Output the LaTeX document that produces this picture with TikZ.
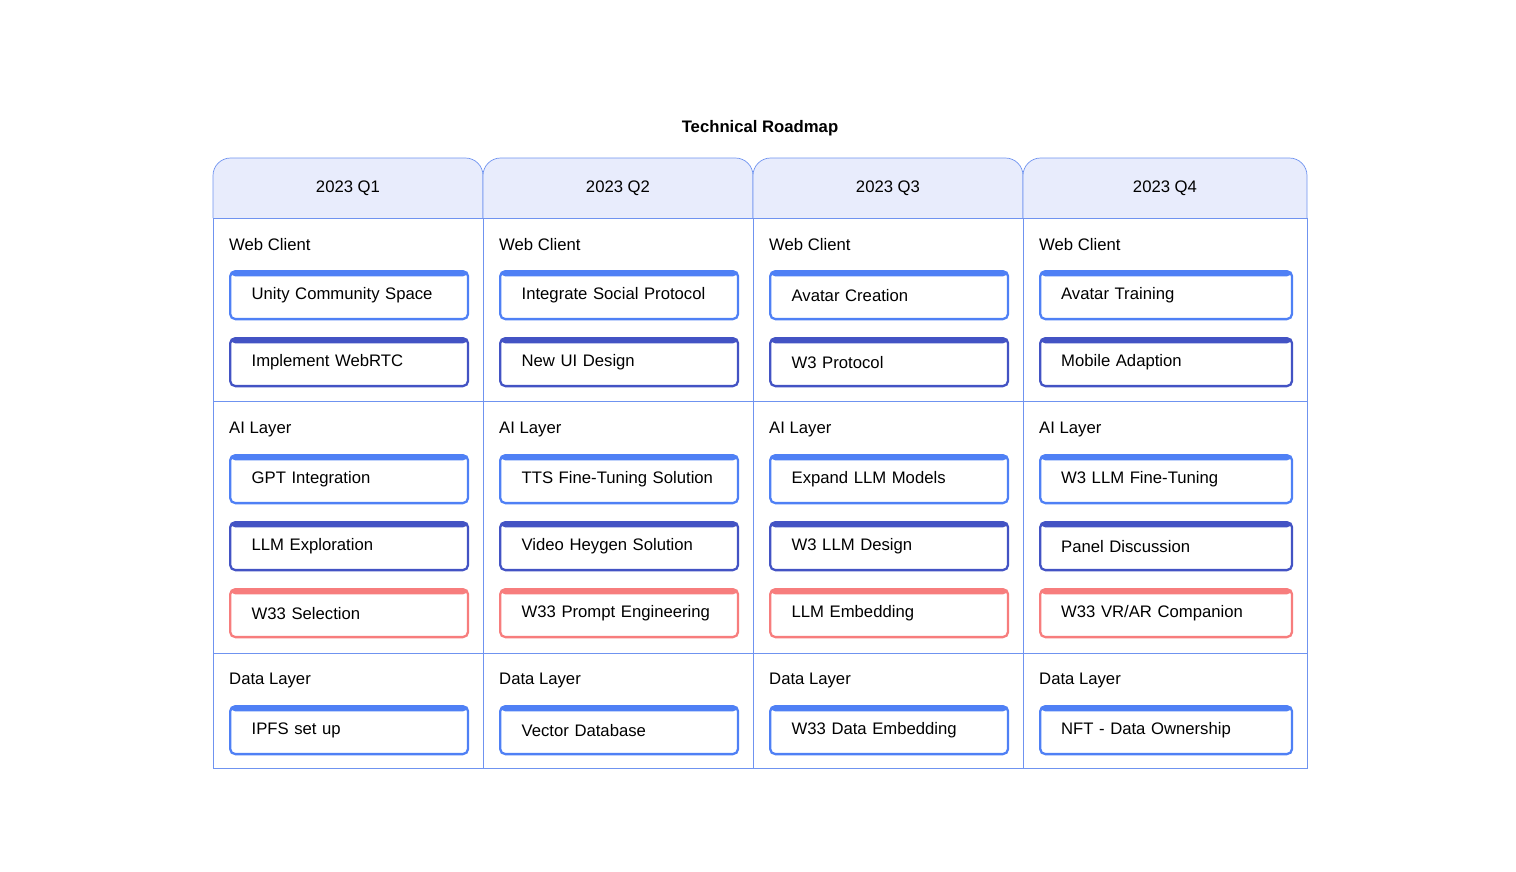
\documentclass[tikz,border=0pt]{standalone}
\usepackage{fontspec}
\setmainfont{Liberation Sans}
\usetikzlibrary{calc}
\definecolor{gridline}{HTML}{6F93F0}
\definecolor{headfill}{HTML}{E8ECFC}
\definecolor{itemblue}{HTML}{4F80F5}
\definecolor{itemdark}{HTML}{4353C4}
\definecolor{itemred}{HTML}{F77D7D}
\tikzset{
  item/.style={draw=#1, fill=white, line width=1.3pt, rounded corners=3pt,
    minimum width=4.76cm, minimum height=0.96cm, anchor=north west,
    inner xsep=0.42cm, text width=3.9cm, align=left, font=\fontsize{9.5}{11}\selectfont,
    path picture={\fill[#1] (path picture bounding box.north west) rectangle
      ([yshift=-3pt]path picture bounding box.north east);}},
  layer/.style={anchor=west, font=\fontsize{9.5}{11}\selectfont},
  qhead/.style={font=\fontsize{9.5}{11}\selectfont}
}
\begin{document}
\begin{tikzpicture}[x=0.02cm,y=-0.02cm]
\useasboundingbox (0,0) rectangle (1516,872);

\node[font=\bfseries\fontsize{9.5}{11}\selectfont] (title) at (760,128) {Technical Roadmap};

%columns and header
\foreach \xa/\xb/\q in {213/483/Q1,483/753/Q2,753/1023/Q3,1023/1307/Q4}{
  \filldraw[fill=headfill,draw=gridline,rounded corners=10pt] (\xa,218) -- (\xa,158) -- (\xb,158) -- (\xb,218);
  \draw[gridline] (\xa,218) rectangle (\xb,768);
  \node[qhead] (head\q) at ({(\xa+\xb)/2},188) {2023 \q};
}
\draw[gridline] (213,218) -- (1307,218);
\draw[gridline] (213,401) -- (1307,401);
\draw[gridline] (213,653) -- (1307,653);

%layer labels
\foreach \x/\q in {229/Q1,499/Q2,769/Q3,1039/Q4}{
  \node[layer] (web\q) at (\x-6,245) {Web Client};
  \node[layer] (ai\q) at (\x-6,429) {AI Layer};
  \node[layer] (data\q) at (\x-6,680) {Data Layer};
}

%Q1
\node[item=itemblue] (q1a) at (229,270) {Unity Community Space};
\node[item=itemdark] (q1b) at (229,337) {Implement WebRTC};
\node[item=itemblue] (q1c) at (229,454) {GPT Integration};
\node[item=itemdark] (q1d) at (229,521) {LLM Exploration};
\node[item=itemred] (q1e) at (229,588) {W33 Selection};
\node[item=itemblue] (q1f) at (229,705) {IPFS set up};

%Q2
\node[item=itemblue] (q2a) at (499,270) {Integrate Social Protocol};
\node[item=itemdark] (q2b) at (499,337) {New UI Design};
\node[item=itemblue] (q2c) at (499,454) {TTS Fine-Tuning Solution};
\node[item=itemdark] (q2d) at (499,521) {Video Heygen Solution};
\node[item=itemred] (q2e) at (499,588) {W33 Prompt Engineering};
\node[item=itemblue] (q2f) at (499,705) {Vector Database};

%Q3
\node[item=itemblue] (q3a) at (769,270) {Avatar Creation};
\node[item=itemdark] (q3b) at (769,337) {W3 Protocol};
\node[item=itemblue] (q3c) at (769,454) {Expand LLM Models};
\node[item=itemdark] (q3d) at (769,521) {W3 LLM Design};
\node[item=itemred] (q3e) at (769,588) {LLM Embedding};
\node[item=itemblue] (q3f) at (769,705) {W33 Data Embedding};

%Q4
\tikzset{wide/.style={minimum width=5.04cm, text width=4.2cm}}
\node[item=itemblue,wide] (q4a) at (1039,270) {Avatar Training};
\node[item=itemdark,wide] (q4b) at (1039,337) {Mobile Adaption};
\node[item=itemblue,wide] (q4c) at (1039,454) {W3 LLM Fine-Tuning};
\node[item=itemdark,wide] (q4d) at (1039,521) {Panel Discussion};
\node[item=itemred,wide] (q4e) at (1039,588) {W33 VR/AR Companion};
\node[item=itemblue,wide] (q4f) at (1039,705) {NFT - Data Ownership};

\end{tikzpicture}
\end{document}
